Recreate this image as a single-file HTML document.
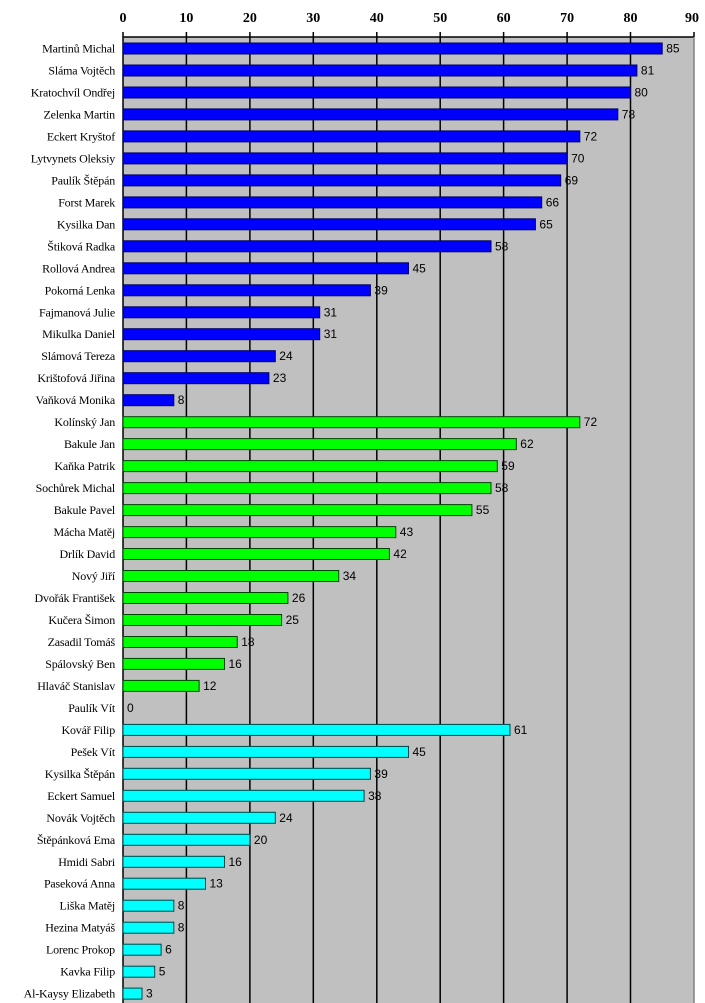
<!DOCTYPE html>
<html><head><meta charset="utf-8"><style>
html,body{margin:0;padding:0;background:#fff}
svg{display:block}
.n{font-family:"Liberation Serif",serif;font-size:12px;text-anchor:end;letter-spacing:-0.2px;fill:#000}
.v{font-family:"Liberation Sans",sans-serif;font-size:12px;fill:#000}
.t{font-family:"Liberation Serif",serif;font-size:14px;font-weight:bold;text-anchor:middle}
.b{fill:#0000ff;stroke:#000066;stroke-width:1}
.g{fill:#00ff00;stroke:#004400;stroke-width:1}
.c{fill:#00ffff;stroke:#004444;stroke-width:1}
</style></head><body>
<svg width="705" height="1003" viewBox="0 0 705 1003" xmlns="http://www.w3.org/2000/svg">
<rect x="123" y="37" width="571" height="970" fill="#c0c0c0"/>
<g stroke="#000" stroke-width="1.5">
<line x1="186.4" y1="37" x2="186.4" y2="1003"/><line x1="249.9" y1="37" x2="249.9" y2="1003"/><line x1="313.3" y1="37" x2="313.3" y2="1003"/><line x1="376.8" y1="37" x2="376.8" y2="1003"/><line x1="440.2" y1="37" x2="440.2" y2="1003"/><line x1="503.6" y1="37" x2="503.6" y2="1003"/><line x1="567.1" y1="37" x2="567.1" y2="1003"/><line x1="630.5" y1="37" x2="630.5" y2="1003"/>
<line x1="123" y1="37" x2="694" y2="37"/>
<line x1="123" y1="32" x2="123" y2="37"/><line x1="186.4" y1="32" x2="186.4" y2="37"/><line x1="249.9" y1="32" x2="249.9" y2="37"/><line x1="313.3" y1="32" x2="313.3" y2="37"/><line x1="376.8" y1="32" x2="376.8" y2="37"/><line x1="440.2" y1="32" x2="440.2" y2="37"/><line x1="503.6" y1="32" x2="503.6" y2="37"/><line x1="567.1" y1="32" x2="567.1" y2="37"/><line x1="630.5" y1="32" x2="630.5" y2="37"/><line x1="694" y1="32" x2="694" y2="37"/>
<line x1="123" y1="37" x2="123" y2="1003"/>
</g>
<line x1="694" y1="37" x2="694" y2="1003" stroke="#808080" stroke-width="1.5"/>
<g class="t">
<text x="123" y="22">0</text><text x="186.4" y="22">10</text><text x="249.9" y="22">20</text><text x="313.3" y="22">30</text><text x="376.8" y="22">40</text><text x="440.2" y="22">50</text><text x="503.6" y="22">60</text><text x="567.1" y="22">70</text><text x="630.5" y="22">80</text><text x="692" y="22">90</text>
</g>
<g transform="translate(0,48.5)"><text class="n" x="115" y="4">Martinů Michal</text><rect class="b" x="123" y="-5.5" width="539.2" height="11"/><text class="v" x="666.2" y="4">85</text></g>
<g transform="translate(0,70.5)"><text class="n" x="115" y="4">Sláma Vojtěch</text><rect class="b" x="123" y="-5.5" width="513.9" height="11"/><text class="v" x="640.9" y="4">81</text></g>
<g transform="translate(0,92.5)"><text class="n" x="115" y="4">Kratochvíl Ondřej</text><rect class="b" x="123" y="-5.5" width="507.5" height="11"/><text class="v" x="634.5" y="4">80</text></g>
<g transform="translate(0,114.4)"><text class="n" x="115" y="4">Zelenka Martin</text><rect class="b" x="123" y="-5.5" width="494.8" height="11"/><text class="v" x="621.8" y="4">78</text></g>
<g transform="translate(0,136.4)"><text class="n" x="115" y="4">Eckert Kryštof</text><rect class="b" x="123" y="-5.5" width="456.8" height="11"/><text class="v" x="583.8" y="4">72</text></g>
<g transform="translate(0,158.4)"><text class="n" x="115" y="4">Lytvynets Oleksiy</text><rect class="b" x="123" y="-5.5" width="444.1" height="11"/><text class="v" x="571.1" y="4">70</text></g>
<g transform="translate(0,180.4)"><text class="n" x="115" y="4">Paulík Štěpán</text><rect class="b" x="123" y="-5.5" width="437.7" height="11"/><text class="v" x="564.7" y="4">69</text></g>
<g transform="translate(0,202.4)"><text class="n" x="115" y="4">Forst Marek</text><rect class="b" x="123" y="-5.5" width="418.7" height="11"/><text class="v" x="545.7" y="4">66</text></g>
<g transform="translate(0,224.3)"><text class="n" x="115" y="4">Kysilka Dan</text><rect class="b" x="123" y="-5.5" width="412.4" height="11"/><text class="v" x="539.4" y="4">65</text></g>
<g transform="translate(0,246.3)"><text class="n" x="115" y="4">Štiková Radka</text><rect class="b" x="123" y="-5.5" width="368.0" height="11"/><text class="v" x="495" y="4">58</text></g>
<g transform="translate(0,268.3)"><text class="n" x="115" y="4">Rollová Andrea</text><rect class="b" x="123" y="-5.5" width="285.5" height="11"/><text class="v" x="412.5" y="4">45</text></g>
<g transform="translate(0,290.3)"><text class="n" x="115" y="4">Pokorná Lenka</text><rect class="b" x="123" y="-5.5" width="247.4" height="11"/><text class="v" x="374.4" y="4">39</text></g>
<g transform="translate(0,312.3)"><text class="n" x="115" y="4">Fajmanová Julie</text><rect class="b" x="123" y="-5.5" width="196.7" height="11"/><text class="v" x="323.7" y="4">31</text></g>
<g transform="translate(0,334.2)"><text class="n" x="115" y="4">Mikulka Daniel</text><rect class="b" x="123" y="-5.5" width="196.7" height="11"/><text class="v" x="323.7" y="4">31</text></g>
<g transform="translate(0,356.2)"><text class="n" x="115" y="4">Slámová Tereza</text><rect class="b" x="123" y="-5.5" width="152.3" height="11"/><text class="v" x="279.3" y="4">24</text></g>
<g transform="translate(0,378.2)"><text class="n" x="115" y="4">Krištofová Jiřina</text><rect class="b" x="123" y="-5.5" width="145.9" height="11"/><text class="v" x="272.9" y="4">23</text></g>
<g transform="translate(0,400.2)"><text class="n" x="115" y="4">Vaňková Monika</text><rect class="b" x="123" y="-5.5" width="50.8" height="11"/><text class="v" x="177.8" y="4">8</text></g>
<g transform="translate(0,422.2)"><text class="n" x="115" y="4">Kolínský Jan</text><rect class="g" x="123" y="-5.5" width="456.8" height="11"/><text class="v" x="583.8" y="4">72</text></g>
<g transform="translate(0,444.1)"><text class="n" x="115" y="4">Bakule Jan</text><rect class="g" x="123" y="-5.5" width="393.3" height="11"/><text class="v" x="520.3" y="4">62</text></g>
<g transform="translate(0,466.1)"><text class="n" x="115" y="4">Kaňka Patrik</text><rect class="g" x="123" y="-5.5" width="374.3" height="11"/><text class="v" x="501.3" y="4">59</text></g>
<g transform="translate(0,488.1)"><text class="n" x="115" y="4">Sochůrek Michal</text><rect class="g" x="123" y="-5.5" width="368.0" height="11"/><text class="v" x="495" y="4">58</text></g>
<g transform="translate(0,510.1)"><text class="n" x="115" y="4">Bakule Pavel</text><rect class="g" x="123" y="-5.5" width="348.9" height="11"/><text class="v" x="475.9" y="4">55</text></g>
<g transform="translate(0,532.1)"><text class="n" x="115" y="4">Mácha Matěj</text><rect class="g" x="123" y="-5.5" width="272.8" height="11"/><text class="v" x="399.8" y="4">43</text></g>
<g transform="translate(0,554.0)"><text class="n" x="115" y="4">Drlík David</text><rect class="g" x="123" y="-5.5" width="266.4" height="11"/><text class="v" x="393.4" y="4">42</text></g>
<g transform="translate(0,576.0)"><text class="n" x="115" y="4">Nový Jiří</text><rect class="g" x="123" y="-5.5" width="215.7" height="11"/><text class="v" x="342.7" y="4">34</text></g>
<g transform="translate(0,598.0)"><text class="n" x="115" y="4">Dvořák František</text><rect class="g" x="123" y="-5.5" width="164.9" height="11"/><text class="v" x="291.9" y="4">26</text></g>
<g transform="translate(0,620.0)"><text class="n" x="115" y="4">Kučera Šimon</text><rect class="g" x="123" y="-5.5" width="158.6" height="11"/><text class="v" x="285.6" y="4">25</text></g>
<g transform="translate(0,642.0)"><text class="n" x="115" y="4">Zasadil Tomáš</text><rect class="g" x="123" y="-5.5" width="114.2" height="11"/><text class="v" x="241.2" y="4">18</text></g>
<g transform="translate(0,663.9)"><text class="n" x="115" y="4">Spálovský Ben</text><rect class="g" x="123" y="-5.5" width="101.5" height="11"/><text class="v" x="228.5" y="4">16</text></g>
<g transform="translate(0,685.9)"><text class="n" x="115" y="4">Hlaváč Stanislav</text><rect class="g" x="123" y="-5.5" width="76.1" height="11"/><text class="v" x="203.1" y="4">12</text></g>
<g transform="translate(0,707.9)"><text class="n" x="115" y="4">Paulík Vít</text><text class="v" x="127" y="4">0</text></g>
<g transform="translate(0,729.9)"><text class="n" x="115" y="4">Kovář Filip</text><rect class="c" x="123" y="-5.5" width="387.0" height="11"/><text class="v" x="514" y="4">61</text></g>
<g transform="translate(0,751.9)"><text class="n" x="115" y="4">Pešek Vít</text><rect class="c" x="123" y="-5.5" width="285.5" height="11"/><text class="v" x="412.5" y="4">45</text></g>
<g transform="translate(0,773.8)"><text class="n" x="115" y="4">Kysilka Štěpán</text><rect class="c" x="123" y="-5.5" width="247.4" height="11"/><text class="v" x="374.4" y="4">39</text></g>
<g transform="translate(0,795.8)"><text class="n" x="115" y="4">Eckert Samuel</text><rect class="c" x="123" y="-5.5" width="241.1" height="11"/><text class="v" x="368.1" y="4">38</text></g>
<g transform="translate(0,817.8)"><text class="n" x="115" y="4">Novák Vojtěch</text><rect class="c" x="123" y="-5.5" width="152.3" height="11"/><text class="v" x="279.3" y="4">24</text></g>
<g transform="translate(0,839.8)"><text class="n" x="115" y="4">Štěpánková Ema</text><rect class="c" x="123" y="-5.5" width="126.9" height="11"/><text class="v" x="253.9" y="4">20</text></g>
<g transform="translate(0,861.8)"><text class="n" x="115" y="4">Hmidi Sabri</text><rect class="c" x="123" y="-5.5" width="101.5" height="11"/><text class="v" x="228.5" y="4">16</text></g>
<g transform="translate(0,883.7)"><text class="n" x="115" y="4">Paseková Anna</text><rect class="c" x="123" y="-5.5" width="82.5" height="11"/><text class="v" x="209.5" y="4">13</text></g>
<g transform="translate(0,905.7)"><text class="n" x="115" y="4">Liška Matěj</text><rect class="c" x="123" y="-5.5" width="50.8" height="11"/><text class="v" x="177.8" y="4">8</text></g>
<g transform="translate(0,927.7)"><text class="n" x="115" y="4">Hezina Matyáš</text><rect class="c" x="123" y="-5.5" width="50.8" height="11"/><text class="v" x="177.8" y="4">8</text></g>
<g transform="translate(0,949.7)"><text class="n" x="115" y="4">Lorenc Prokop</text><rect class="c" x="123" y="-5.5" width="38.1" height="11"/><text class="v" x="165.1" y="4">6</text></g>
<g transform="translate(0,971.7)"><text class="n" x="115" y="4">Kavka Filip</text><rect class="c" x="123" y="-5.5" width="31.7" height="11"/><text class="v" x="158.7" y="4">5</text></g>
<g transform="translate(0,993.6)"><text class="n" x="115" y="4">Al-Kaysy Elizabeth</text><rect class="c" x="123" y="-5.5" width="19.0" height="11"/><text class="v" x="146" y="4">3</text></g>
</svg>
</body></html>
